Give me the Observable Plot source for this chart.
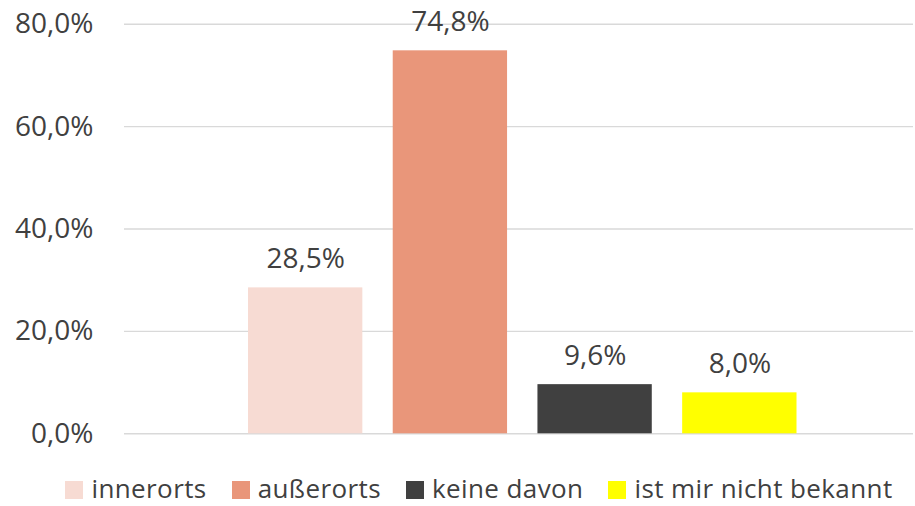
<!DOCTYPE html>
<html>
<head>
<meta charset="utf-8">
<script src="https://cdn.jsdelivr.net/npm/d3@7"></script>
<script src="https://cdn.jsdelivr.net/npm/@observablehq/plot@0.6"></script>
<style>
  html, body { margin: 0; padding: 0; background: #fff; }
  body { position: relative; width: 915px; height: 506px; overflow: hidden; font-family: "Open Sans", sans-serif; color: #404040; }
  #legend { position: absolute; left: 0; top: 470px; display: flex; justify-content: center; align-items: flex-start; padding-left: 43px; box-sizing: border-box; width: 915px; font-size: 26px; line-height: normal; }
  .item { display: flex; align-items: flex-start; margin: 0 12.5px; white-space: nowrap; letter-spacing: 0.4px; }
  .sw { width: 18px; height: 18px; margin-right: 8px; margin-top: 11px; }
</style>
</head>
<body>
<div id="chart"></div>
<div id="legend"></div>
<script>
const categories = ["innerorts", "außerorts", "keine davon", "ist mir nicht bekannt"];
const values = [0.285, 0.748, 0.096, 0.080];
const colors = ["#F7DBD3", "#E9967A", "#404040", "#FFFF00"];
const yTicks = [0, 0.2, 0.4, 0.6, 0.8];

const locale = d3.formatLocale({decimal: ",", thousands: ".", grouping: [3], currency: ["", " €"]});
const pct = locale.format(".1%");

const data = categories.map((c, i) => ({category: c, value: values[i], color: colors[i]}));

const H = 460;
const chart = Plot.plot({
  width: 915,
  height: H,
  marginLeft: 124,
  marginRight: 2,
  marginTop: 23.7,
  marginBottom: H - 433.3,
  style: {fontFamily: "Open Sans, sans-serif", fontSize: "28px", color: "#404040", background: "white"},
  x: {type: "band", domain: categories, range: [248, 796.5], paddingInner: 0.21, paddingOuter: 0, round: false, axis: null},
  y: {domain: [0, 0.8], ticks: yTicks, tickFormat: pct, tickSize: 0, tickPadding: 31, label: null},
  marks: [
    Plot.ruleY(yTicks, {stroke: "#d9d9d9", strokeWidth: 1.4}),
    Plot.barY(data, {x: "category", y: "value", fill: "color"}),
    Plot.text(data, {x: "category", y: "value", text: d => pct(d.value), lineAnchor: "bottom", dy: -20, fill: "#404040", fontSize: 28})
  ]
});
document.getElementById("chart").appendChild(chart);

const legend = document.getElementById("legend");
categories.forEach((c, i) => {
  const item = document.createElement("div");
  item.className = "item";
  const sw = document.createElement("div");
  sw.className = "sw";
  sw.style.background = colors[i];
  const t = document.createElement("span");
  t.textContent = c;
  item.appendChild(sw);
  item.appendChild(t);
  legend.appendChild(item);
});
</script>
</body>
</html>
